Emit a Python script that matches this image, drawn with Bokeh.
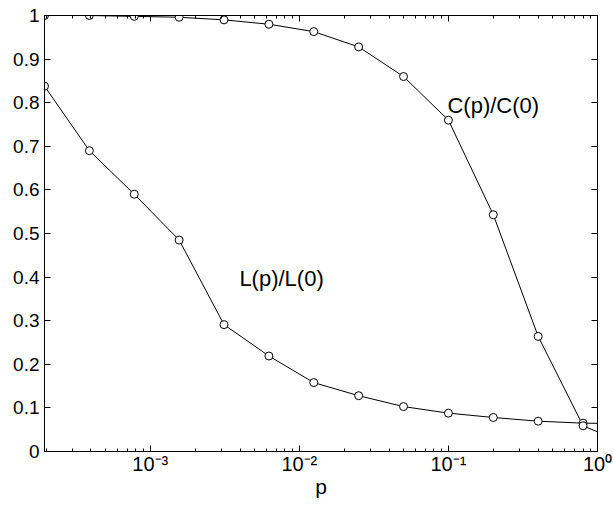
from bokeh.plotting import figure
from bokeh.models import LogAxis, LinearAxis, FixedTicker, Range1d, ColumnDataSource, AllLabels
from bokeh.core.properties import value
from bokeh.embed import file_html
from bokeh.resources import INLINE

# rewiring probability p (last value lies beyond the axis; its segment is clipped)
p_vals = [0.0001953, 0.0003906, 0.0007813, 0.0015625, 0.003125, 0.00625,
          0.0125, 0.025, 0.05, 0.1, 0.2, 0.4, 0.8, 1.6]
L_norm = [0.838, 0.69, 0.59, 0.485, 0.291, 0.219, 0.158, 0.128, 0.103,
          0.088, 0.078, 0.0695, 0.065, 0.064]
C_norm = [1.0, 1.0, 0.998, 0.996, 0.99, 0.98, 0.963, 0.928, 0.86, 0.76,
          0.543, 0.264, 0.059, 0.016]

x_major = [0.001, 0.01, 0.1, 1]
x_labels = ["10\u207b\u00b3", "10\u207b\u00b2", "10\u207b\u00b9", "10\u2070"]
y_major = [0, 0.1, 0.2, 0.3, 0.4, 0.5, 0.6, 0.7, 0.8, 0.9, 1]
y_labels = ["0", "0.1", "0.2", "0.3", "0.4", "0.5", "0.6", "0.7", "0.8", "0.9", "1"]

label_L = {"x": [0.0076], "y": [0.397], "t": ["L(p)/L(0)"]}
label_C = {"x": [0.2], "y": [0.794], "t": ["C(p)/C(0)"]}

x_start, x_end = 0.0001953, 1.0

minor = []
for e in [-4, -3, -2, -1]:
    for k in range(2, 10):
        v = k * 10.0 ** e
        if x_start <= v <= x_end:
            minor.append(v)

FONT = "Liberation Sans"

p = figure(x_axis_type="log", x_range=Range1d(x_start, x_end), y_range=Range1d(0, 1),
           frame_width=553, frame_height=436, output_backend="svg", toolbar_location=None,
           min_border_left=44, min_border_top=15, min_border_right=16, min_border_bottom=55)
p.grid.visible = False
p.outline_line_color = "black"
p.outline_line_width = 1
p.background_fill_color = "white"
p.border_fill_color = "white"

xt = FixedTicker(ticks=x_major, minor_ticks=minor)
yt = FixedTicker(ticks=y_major, minor_ticks=[])

bottom = p.below[0]
left = p.left[0]
top = LogAxis(ticker=xt)
right = LinearAxis(ticker=yt)
p.add_layout(top, "above")
p.add_layout(right, "right")

bottom.ticker = xt
left.ticker = yt

for ax in [bottom, left, top, right]:
    ax.major_tick_in = 6
    ax.major_tick_out = 0
    ax.minor_tick_in = 3
    ax.minor_tick_out = 0
    ax.axis_line_color = "black"
    ax.major_tick_line_color = "black"
    ax.minor_tick_line_color = "black"
    ax.major_label_text_font = FONT
    ax.major_label_text_color = "black"
    ax.major_label_text_font_size = "19px"
    ax.major_label_policy = AllLabels()

bottom.major_label_overrides = dict(zip(x_major, x_labels))
bottom.major_label_text_font_size = "20px"
bottom.axis_label = "p"
bottom.axis_label_text_font = FONT
bottom.axis_label_text_font_style = "normal"
bottom.axis_label_text_font_size = "21px"
bottom.axis_label_text_color = "black"
bottom.axis_label_standoff = -3
bottom.major_label_standoff = 1

left.major_label_overrides = dict(zip(y_major, y_labels))
left.major_label_standoff = 5

top.major_label_overrides = {t: "" for t in x_major}
right.major_label_overrides = {t: "" for t in y_major}
for ax in (top, right):
    ax.major_label_text_font_size = "1px"
    ax.major_label_text_color = None
    ax.major_label_standoff = 0

src = ColumnDataSource(dict(p=p_vals, L=L_norm, C=C_norm))
p.line("p", "L", source=src, line_color="black", line_width=1)
p.line("p", "C", source=src, line_color="black", line_width=1)
p.scatter("p", "L", source=src, size=8, marker="circle", fill_color="white", line_color="black", line_width=1)
p.scatter("p", "C", source=src, size=8, marker="circle", fill_color="white", line_color="black", line_width=1)

for lab in (label_L, label_C):
    p.text(x="x", y="y", text="t", source=ColumnDataSource(lab), text_font=value(FONT),
           text_font_size="22px", text_align="center", text_baseline="middle", text_color="black")

open("out.html", "w").write(file_html(p, INLINE))
